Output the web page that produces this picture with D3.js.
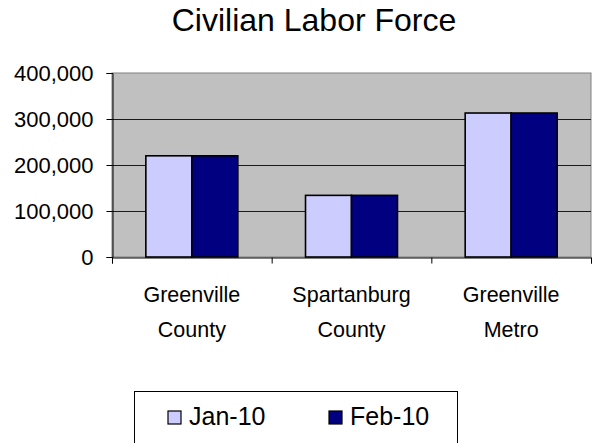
<!DOCTYPE html>
<html><head><meta charset="utf-8">
<script src="https://cdn.jsdelivr.net/npm/d3@7"></script>
<style>body{margin:0;background:#fff}svg{display:block}text{font-family:"Liberation Sans",Arial,sans-serif;fill:#000}</style>
</head><body><svg id="c" width="597" height="443"></svg>
<script>
const title = "Civilian Labor Force";
const categories = [["Greenville","County"],["Spartanburg","County"],["Greenville","Metro"]];
const seriesNames = ["Jan-10","Feb-10"];
const seriesColors = ["#CCCCFF","#000080"];
const jan10 = [220000, 134000, 313000];
const feb10 = [220000, 134000, 313000];
const yTicks = [0,100000,200000,300000,400000];

const series = [jan10, feb10];
const svg = d3.select("#c");
const L=112,R=591,T=73,B=257;
const catKeys = categories.map((c,i)=>i);
const x0 = d3.scaleBand().domain(catKeys).range([L,R]).padding(0);
const x1 = d3.scaleBand().domain(d3.range(series.length)).range([0,x0.bandwidth()]).paddingInner(0).paddingOuter(0.736);
const y = d3.scaleLinear().domain([0,400000]).range([B,T]);

svg.append("rect").attr("x",L).attr("y",T).attr("width",R-L).attr("height",B-T).attr("fill","#C0C0C0").attr("stroke","#808080").attr("stroke-width",1);
svg.append("g").selectAll("line").data(yTicks.filter(v=>v>0&&v<400000)).join("line")
  .attr("x1",L).attr("x2",R).attr("y1",d=>Math.round(y(d))+0.5).attr("y2",d=>Math.round(y(d))+0.5)
  .attr("stroke","#1a1a1a").attr("stroke-width",1);

const g = svg.append("g");
catKeys.forEach(ci=>{
  series.forEach((s,si)=>{
    g.append("rect").attr("x",x0(ci)+x1(si)).attr("y",y(s[ci])).attr("width",x1.bandwidth()).attr("height",y(0)-y(s[ci]))
      .attr("fill",seriesColors[si]).attr("stroke","#000").attr("stroke-width",1.6);
  });
});

// y axis
const ya = d3.axisLeft(y).tickValues(yTicks).tickSize(6).tickFormat(d3.format(","));
const yg = svg.append("g").attr("transform",`translate(${L+0.5},0)`).call(ya);
yg.select(".domain").attr("stroke","#000");
yg.selectAll(".tick line").attr("stroke","#000");
yg.selectAll("text").attr("font-size",22).attr("x",-19).attr("dy","0.36em").style("font-family","Liberation Sans, Arial, sans-serif");

// x axis
const xa = d3.axisBottom(d3.scaleLinear().domain([0,3]).range([L,R])).tickValues([0,1,2,3]).tickSize(6).tickFormat("");
const xg = svg.append("g").attr("transform",`translate(0,${B+0.5})`).call(xa);
xg.select(".domain").attr("stroke","#000");
xg.selectAll(".tick line").attr("stroke","#000");

const lab = svg.append("g");
categories.forEach((c,ci)=>{
  const cx = x0(ci)+x0.bandwidth()/2;
  const t = lab.append("text").attr("text-anchor","middle").attr("font-size",21.5);
  c.forEach((line,li)=>t.append("tspan").attr("x",cx).attr("y",302+li*34.5).text(line));
});

svg.append("text").attr("x",314).attr("y",31).attr("text-anchor","middle").attr("font-size",32).text(title);

// legend
const lg = svg.append("g");
lg.append("rect").attr("x",134.5).attr("y",391.5).attr("width",323).attr("height",60).attr("fill","#fff").attr("stroke","#000");
const lx=[168,329];
seriesNames.forEach((n,i)=>{
  lg.append("rect").attr("x",lx[i]).attr("y",411).attr("width",13).attr("height",13).attr("fill",seriesColors[i]).attr("stroke","#000").attr("stroke-width",1.2);
  lg.append("text").attr("x",lx[i]+21).attr("y",425).attr("font-size",25).text(n);
});
</script></body></html>
